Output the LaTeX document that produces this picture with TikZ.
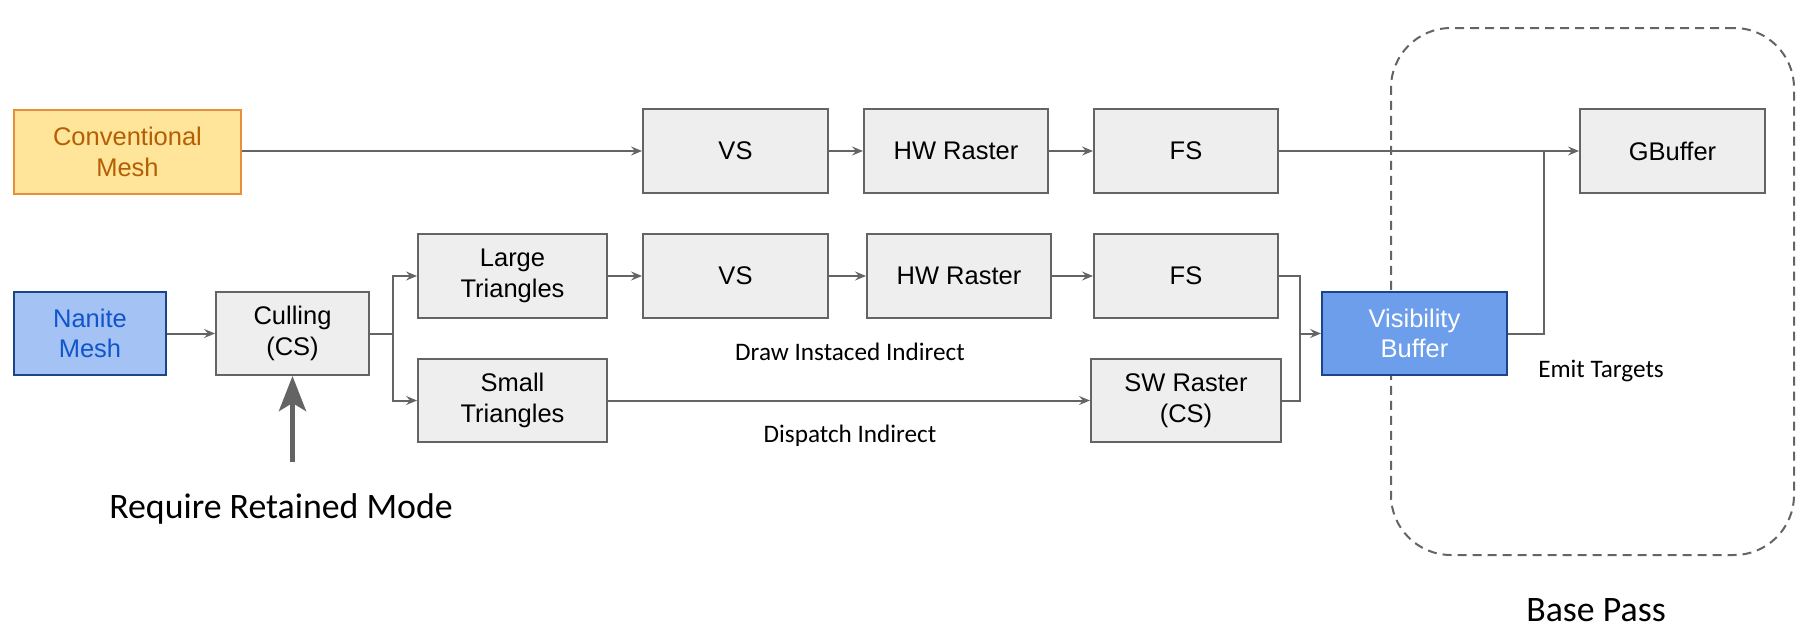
\documentclass[tikz,border=0pt]{standalone}
\usepackage{fontspec}
\setmainfont{Liberation Sans}
\newfontfamily\calib{Carlito}
\usetikzlibrary{arrows.meta}
\definecolor{boxgray}{HTML}{EEEEEE}
\definecolor{linegray}{HTML}{646464}
\definecolor{convfill}{HTML}{FFE599}
\definecolor{convline}{HTML}{E69138}
\definecolor{convtext}{HTML}{B45F06}
\definecolor{nanfill}{HTML}{A4C2F4}
\definecolor{nanline}{HTML}{1C4587}
\definecolor{nantext}{HTML}{1155CC}
\definecolor{visfill}{HTML}{6D9EEB}
\begin{document}
\begin{tikzpicture}[x=1pt,y=-1pt,
  gbox/.style={draw=linegray, fill=boxgray, line width=2pt, minimum height=84pt,
    inner sep=0pt, align=center, font=\fontsize{25.5}{30.5}\selectfont},
  con/.style={draw=linegray, line width=2pt, -{Stealth[length=11pt,width=9pt,inset=4pt]}},
  plainline/.style={draw=linegray, line width=2pt},
  lbl/.style={inner sep=0pt, font=\calib\fontsize{25.2}{29}\selectfont},
  biglbl/.style={inner sep=0pt, font=\calib\fontsize{35.8}{41}\selectfont}]
\useasboundingbox (0,0) rectangle (1805,640);

% dashed base pass region
\node[name=basepass, draw=linegray, line width=2pt, dash pattern=on 9pt off 6pt,
  rounded corners=60pt, minimum width=403pt, minimum height=527pt, inner sep=0pt]
  at (1592.5,291.5) {};

% top row
\node[gbox, name=conv, minimum width=227pt, draw=convline, fill=convfill, text=convtext] at (127.5,152) {Conventional\\Mesh};
\node[gbox, name=vsa, minimum width=185pt] at (735.5,151) {VS};
\node[gbox, name=hwa, minimum width=184pt] at (956,151) {HW Raster};
\node[gbox, name=fsa, minimum width=184pt] at (1186,151) {FS};
\node[gbox, name=gbuf, minimum width=185pt] at (1672.5,151) {GBuffer};

% middle / lower rows
\node[gbox, name=nanite, minimum width=152pt, minimum height=83pt, draw=nanline, fill=nanfill, text=nantext] at (90,333.5) {Nanite\\Mesh};
\node[gbox, name=cull, minimum width=153pt, minimum height=83pt] at (292.5,333.5) {Culling\\(CS)};
\node[gbox, name=large, minimum width=189pt] at (512.5,276) {Large\\Triangles};
\node[gbox, name=vsb, minimum width=185pt] at (735.5,276) {VS};
\node[gbox, name=hwb, minimum width=184pt] at (959,276) {HW Raster};
\node[gbox, name=fsb, minimum width=184pt] at (1186,276) {FS};
\node[gbox, name=small, minimum width=189pt, minimum height=83pt] at (512.5,400.5) {Small\\Triangles};
\node[gbox, name=sw, minimum width=190pt, minimum height=83pt] at (1186,400.5) {SW Raster\\(CS)};
\node[gbox, name=vis, minimum width=185pt, minimum height=83pt, draw=nanline, fill=visfill, text=white] at (1414.5,333.5) {Visibility\\Buffer};

% labels
\node[lbl, name=drawlbl] at (850,352) {Draw Instaced Indirect};
\node[lbl, name=displbl] at (850,436) {Dispatch Indirect};
\node[lbl, name=emitlbl] at (1601,371) {Emit Targets};
\node[biglbl, name=reqlbl] at (281,509) {Require Retained Mode};
\node[biglbl, name=baselbl] at (1596,610) {Base Pass};

% connectors
\coordinate (cullj) at (393,333.5);
\coordinate (visj) at (1300,333.5);
\coordinate (gbj) at (1544,151);
\coordinate (reqtail) at (292.5,462);

\draw[con] (conv.east |- vsa.west) -- (vsa.west);
\draw[con] (vsa.east) -- (hwa.west);
\draw[con] (hwa.east) -- (fsa.west);
\draw[con] (fsa.east) -- (gbuf.west);

\draw[con] (nanite.east) -- (cull.west);
\draw[plainline] (cull.east) -- (cullj);
\draw[con] (cullj) |- (large.west);
\draw[con] (cullj) |- (small.west);
\draw[con] (large.east) -- (vsb.west);
\draw[con] (vsb.east) -- (hwb.west);
\draw[con] (hwb.east) -- (fsb.west);
\draw[con] (small.east) -- (sw.west);

\draw[plainline] (fsb.east) -| (visj);
\draw[plainline] (sw.east) -| (visj);
\draw[con] (visj) -- (vis.west);

\draw[plainline] (vis.east) -| (gbj);

\draw[draw=linegray, line width=5pt, -{Stealth[length=35pt,width=27pt,inset=8pt]}] (reqtail) -- (cull.south);
\end{tikzpicture}
\end{document}
